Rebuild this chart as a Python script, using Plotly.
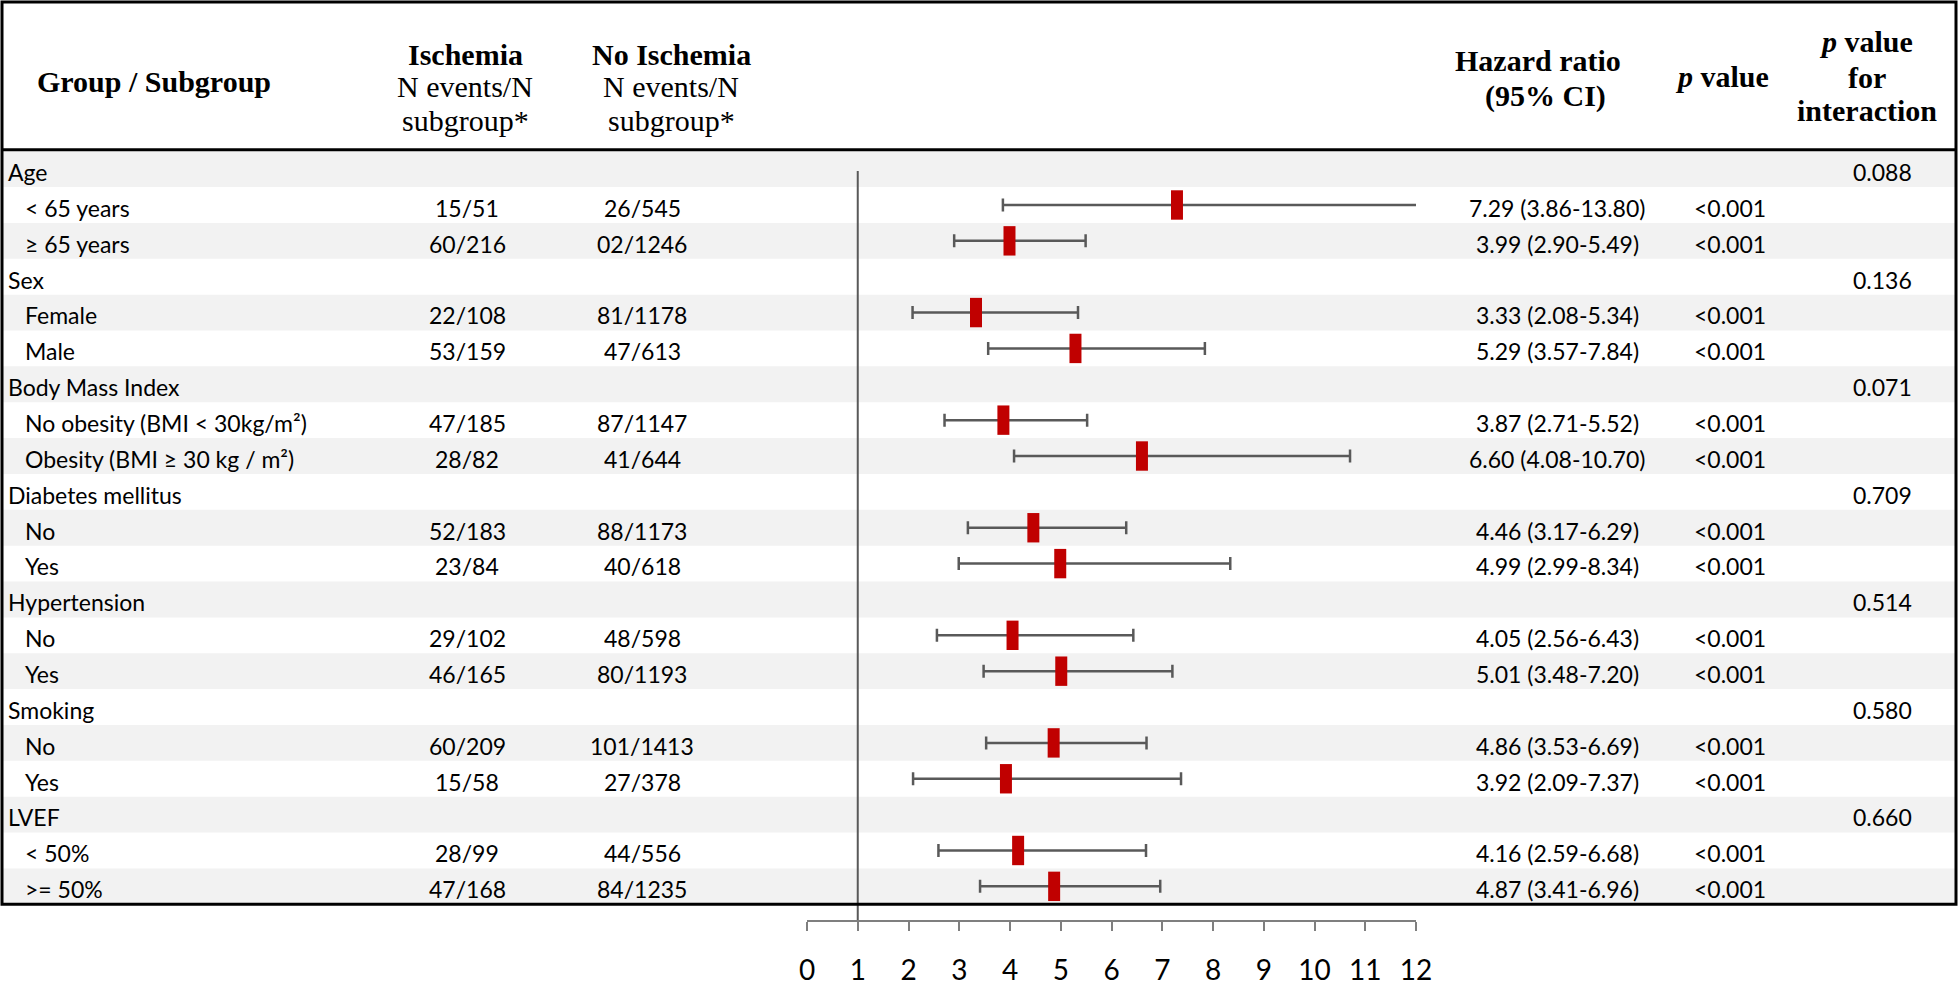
import plotly.graph_objects as go

# ---------------- data ----------------
labels = ["Age", "< 65 years", "≥ 65 years",
          "Sex", "Female", "Male",
          "Body Mass Index", "No obesity (BMI < 30kg/m²)", "Obesity (BMI ≥ 30 kg / m²)",
          "Diabetes mellitus", "No", "Yes",
          "Hypertension", "No", "Yes",
          "Smoking", "No", "Yes",
          "LVEF", "< 50%", ">= 50%"]
is_group = [True, False, False, True, False, False, True, False, False, True, False, False,
            True, False, False, True, False, False, True, False, False]
ischemia = ["", "15/51", "60/216", "", "22/108", "53/159", "", "47/185", "28/82",
            "", "52/183", "23/84", "", "29/102", "46/165", "", "60/209", "15/58",
            "", "28/99", "47/168"]
no_ischemia = ["", "26/545", "02/1246", "", "81/1178", "47/613", "", "87/1147", "41/644",
               "", "88/1173", "40/618", "", "48/598", "80/1193", "", "101/1413", "27/378",
               "", "44/556", "84/1235"]
hr = [None, 7.29, 3.99, None, 3.33, 5.29, None, 3.87, 6.60, None, 4.46, 4.99,
      None, 4.05, 5.01, None, 4.86, 3.92, None, 4.16, 4.87]
ci_low = [None, 3.86, 2.90, None, 2.08, 3.57, None, 2.71, 4.08, None, 3.17, 2.99,
          None, 2.56, 3.48, None, 3.53, 2.09, None, 2.59, 3.41]
ci_high = [None, 13.80, 5.49, None, 5.34, 7.84, None, 5.52, 10.70, None, 6.29, 8.34,
           None, 6.43, 7.20, None, 6.69, 7.37, None, 6.68, 6.96]
p_value = ["", "<0.001", "<0.001", "", "<0.001", "<0.001", "", "<0.001", "<0.001",
           "", "<0.001", "<0.001", "", "<0.001", "<0.001", "", "<0.001", "<0.001",
           "", "<0.001", "<0.001"]
p_interaction = ["0.088", "", "", "0.136", "", "", "0.071", "", "", "0.709", "", "",
                 "0.514", "", "", "0.580", "", "", "0.660", "", ""]
x_ticks = [0, 1, 2, 3, 4, 5, 6, 7, 8, 9, 10, 11, 12]
ref_value = 1

# ---------------- geometry (pixels) ----------------
W, H = 1959, 986
X0_PX, X12_PX = 807, 1416
AXIS_PX = 931
ROW_TOP_PX = 153.0
ROW_H = 36.29
TEXT_DROP = 0.08          # body text sits slightly below the row centre
plot_w = X12_PX - X0_PX


def xp(px):
    return (px - X0_PX) / plot_w


def yv(px):
    return (px - (ROW_TOP_PX + ROW_H / 2)) / ROW_H


def esc(s):
    return s.replace("&", "&amp;").replace("<", "&lt;").replace(">", "&gt;")


n = len(labels)
BODY_FONT = "Lato"
HEAD_FONT = "Liberation Serif"
BODY_SIZE = 23
HEAD_SIZE = 30

fig = go.Figure()

# forest marks
rows = [i for i, h in enumerate(hr) if h is not None]
xs = [hr[i] for i in rows]
plus = [ci_high[i] - hr[i] for i in rows]
minus = [hr[i] - ci_low[i] for i in rows]
fig.add_trace(go.Scatter(
    x=xs, y=rows, mode="markers",
    marker=dict(symbol="line-ns", size=21, color="#C00000",
                line=dict(width=12, color="#C00000")),
    error_x=dict(type="data", array=plus, arrayminus=minus, symmetric=False,
                 color="#595959", thickness=2.5, width=6.5),
    hoverinfo="skip", showlegend=False))

shapes = []
# striped rows
for i in range(n):
    if i % 2 == 0:
        shapes.append(dict(type="rect", xref="paper", yref="y",
                           x0=xp(2), x1=xp(1956), y0=i - 0.5, y1=i + 0.5,
                           fillcolor="#F2F2F2", line=dict(width=0), layer="below"))
# reference line at HR = 1
shapes.append(dict(type="line", xref="x", yref="y", x0=ref_value, x1=ref_value,
                   y0=0.05, y1=yv(AXIS_PX), line=dict(color="#595959", width=2),
                   layer="below"))
# table border and header separator
shapes.append(dict(type="rect", xref="paper", yref="y", x0=xp(2), x1=xp(1956),
                   y0=yv(2), y1=n - 0.5, line=dict(color="black", width=3),
                   fillcolor="rgba(0,0,0,0)", layer="above"))
shapes.append(dict(type="line", xref="paper", yref="y", x0=xp(2), x1=xp(1956),
                   y0=yv(151.5), y1=yv(151.5), line=dict(color="black", width=3),
                   layer="above"))

ann = []


def body(text, xpx, row, anchor="center"):
    ann.append(dict(text=esc(text), x=xp(xpx), y=row + TEXT_DROP, xref="paper", yref="y",
                    xanchor=anchor, yanchor="middle", showarrow=False,
                    font=dict(family=BODY_FONT, size=BODY_SIZE, color="black")))


for i in range(n):
    body(labels[i], 6 if is_group[i] else 23, i, "left")
    if ischemia[i]:
        body(ischemia[i], 467, i)
    if no_ischemia[i]:
        body(no_ischemia[i], 642, i)
    if hr[i] is not None:
        body(f"{hr[i]:.2f} ({ci_low[i]:.2f}-{ci_high[i]:.2f})", 1557, i)
    if p_value[i]:
        body(p_value[i], 1730, i)
    if p_interaction[i]:
        body(p_interaction[i], 1882, i)


def head(text, xpx, ypx):
    ann.append(dict(text=text, x=xp(xpx), y=yv(ypx), xref="paper", yref="y",
                    xanchor="center", yanchor="middle", showarrow=False,
                    font=dict(family=HEAD_FONT, size=HEAD_SIZE, color="black")))


head("<b>Group / Subgroup</b>", 154, 82)
head("<b>Ischemia</b>", 465, 55)
head("N events/N", 465, 88)
head("subgroup*", 465, 122)
head("<b>No Ischemia</b>", 671, 55)
head("N events/N", 671, 88)
head("subgroup*", 671, 122)
head("<b>Hazard ratio</b>", 1538, 61)
head("<b>(95% CI)</b>", 1545, 97)
head("<b><i>p</i> value</b>", 1722, 77)
head("<b><i>p</i> value</b>", 1866, 42)
head("<b>for</b>", 1867, 78)
head("<b>interaction</b>", 1867, 112)

# small stray dot present in the original
ann.append(dict(text=".", x=xp(733), y=yv(972), xref="paper", yref="y",
                xanchor="center", yanchor="middle", showarrow=False,
                font=dict(family=BODY_FONT, size=12, color="#9a9a9a")))

fig.update_layout(
    width=W, height=H,
    margin=dict(l=X0_PX, r=W - X12_PX, t=0, b=H - AXIS_PX, pad=0),
    paper_bgcolor="white", plot_bgcolor="rgba(0,0,0,0)",
    shapes=shapes, annotations=ann, showlegend=False,
    xaxis=dict(range=[0, 12], tickvals=x_ticks, ticktext=[str(t) for t in x_ticks],
               showline=True, linecolor="#7f7f7f", linewidth=2, ticks="outside",
               ticklen=9, tickwidth=2, tickcolor="#7f7f7f", showgrid=False,
               zeroline=False, ticklabelstandoff=15,
               tickfont=dict(family=BODY_FONT, size=28, color="black"), fixedrange=True),
    yaxis=dict(range=[yv(AXIS_PX), yv(0)], visible=False, showgrid=False,
               zeroline=False, fixedrange=True),
)

fig.write_html("out.html", config={"displayModeBar": False},
               post_script="document.body.style.margin='0';document.body.style.overflow='hidden';")
